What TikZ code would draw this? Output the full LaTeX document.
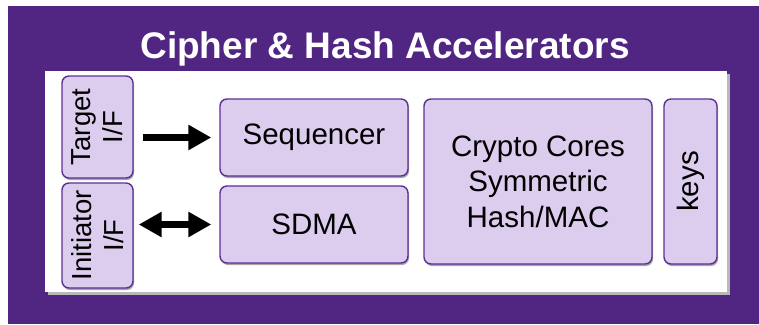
\documentclass[tikz,border=0pt]{standalone}
\usepackage{fontspec}
\setmainfont{Liberation Sans}
\usetikzlibrary{arrows.meta,shadows}
\definecolor{frameviolet}{RGB}{81,37,130}
\definecolor{boxfill}{RGB}{220,204,238}
\definecolor{boxline}{RGB}{92,48,148}
\tikzset{
  unit/.style={draw=boxline, line width=1.4pt, fill=boxfill, rounded corners=7pt,
    inner sep=0pt, align=center, font=\fontsize{29.5}{35.5}\selectfont,
    drop shadow={shadow xshift=1pt, shadow yshift=-2pt, opacity=0.35, fill=black}},
  portbox/.style={unit, rotate=90, font=\fontsize{27.5}{32}\selectfont},
  bigarrow/.style={line width=7pt, -{Triangle[length=23pt,width=24pt]}},
  bothways/.style={line width=7pt, {Triangle[length=23pt,width=24pt]}-{Triangle[length=23pt,width=24pt]}}
}
\begin{document}
\begin{tikzpicture}[x=1pt,y=-1pt]
  \useasboundingbox (0,0) rectangle (759,324);
  % outer frame and title
  \fill[frameviolet] (8,6) rectangle (759,324);
  \node[text=white, font=\bfseries\fontsize{37}{42}\selectfont, anchor=base] (title) at (385,58) {Cipher \& Hash Accelerators};
  % inner white panel with its shadow
  \fill[black!28] (47.5,73.5) rectangle (729.5,294.5);
  \fill[white] (45,71) rectangle (727,292);
  % blocks
  \node[portbox, minimum width=102pt, minimum height=71pt] (tgt) at (97.5,127) {Target\\I/F};
  \node[portbox, minimum width=105pt, minimum height=71pt] (ini) at (97.5,235.5) {Initiator\\I/F};
  \node[unit, minimum width=188pt, minimum height=77pt] (seq) at (314,137.5) {Sequencer};
  \node[unit, minimum width=188pt, minimum height=77pt] (sdma) at (314,224.5) {SDMA};
  \node[unit, minimum width=228pt, minimum height=165pt] (crypto) at (538,181.5) {Crypto Cores\\Symmetric\\Hash/MAC};
  \node[portbox, font=\fontsize{29.5}{35}\selectfont, minimum width=165pt, minimum height=53pt] (keys) at (690.5,181.5) {keys};
  % connectors
  \draw[bigarrow, shorten <=9pt, shorten >=8pt] (tgt.south |- seq.west) -- (seq.west);
  \draw[bothways, shorten <=5pt, shorten >=8pt] (ini.south |- sdma.west) -- (sdma.west);
\end{tikzpicture}
\end{document}
